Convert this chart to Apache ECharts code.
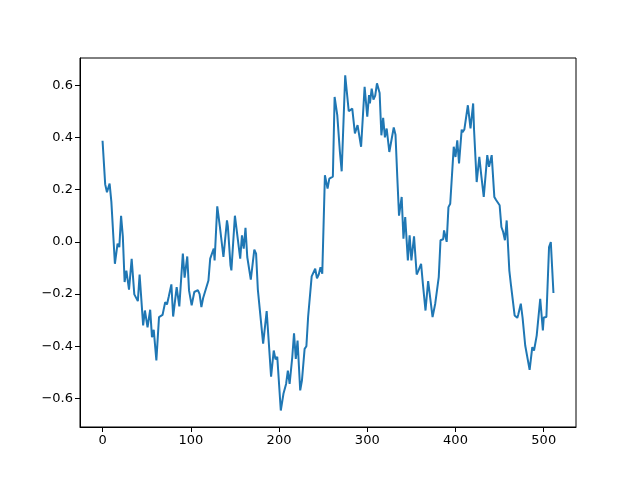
<!DOCTYPE html>
<html><head><meta charset="utf-8">
<script src="https://cdn.jsdelivr.net/npm/echarts@6/dist/echarts.min.js"></script>
<style>html,body{margin:0;padding:0;background:#fff}#c{width:640px;height:480px}</style>
</head><body><div id="c"></div>
<script>
const xs = [0,3,5,8,10,12,14,17,19,21,23,25,27,30,33,36,38,40,42,46,48,51,54,56,58,61,64,66,68,71,73,75,78,80,84,87,91,93,96,98,101,104,106,108,110,112,114,116,120,122,124,126,127,130,133,135,137,141,142,145,146,150,153,156,158,160,162,164,168,172,174,176,178,182,186,191,194,196,198,202,205,208,210,212,215,217,219,221,224,226,229,231,233,235,237,239,241,243,245,247,249,252,255,257,259,261,263,266,269,271,275,279,281,283,286,289,290,293,297,300,302,303,305,307,309,311,314,316,318,320,322,325,330,332,334,336,339,341,343,346,348,350,353,356,358,361,363,366,369,371,374,377,379,381,383,386,387,390,392,394,398,400,402,404,407,408,410,414,417,420,421,424,427,429,432,436,438,441,444,446,448,450,452,454,456,458,461,463,467,470,471,474,476,479,481,484,487,489,492,496,499,500,503,506,508,511];
const ys = [0.387,0.22,0.19,0.223,0.153,0.146,-0.084,-0.007,-0.02,0.10,0.02,-0.154,-0.11,-0.183,-0.065,-0.201,-0.205,-0.227,-0.125,-0.32,-0.263,-0.327,-0.26,-0.365,-0.337,-0.454,-0.288,-0.282,-0.28,-0.231,-0.24,-0.21,-0.163,-0.286,-0.173,-0.247,-0.045,-0.137,-0.056,-0.186,-0.243,-0.192,-0.192,-0.185,-0.20,-0.25,-0.215,-0.215,-0.148,-0.064,-0.06,-0.026,-0.071,0.136,0.057,0.057,-0.058,0.082,0.06,-0.09,-0.109,0.10,0.018,-0.064,0.025,-0.026,0.054,-0.058,-0.145,-0.03,-0.045,-0.183,-0.19,-0.39,-0.265,-0.516,-0.416,-0.45,-0.44,-0.646,-0.582,-0.544,-0.493,-0.544,-0.442,-0.35,-0.448,-0.378,-0.569,-0.53,-0.41,-0.40,-0.286,-0.28,-0.132,-0.13,-0.103,-0.14,-0.125,-0.097,-0.122,0.255,0.204,0.242,0.24,0.25,0.555,0.485,0.344,0.27,0.638,0.50,0.50,0.51,0.415,0.447,0.44,0.364,0.594,0.479,0.562,0.53,0.587,0.545,0.56,0.607,0.57,0.408,0.475,0.40,0.434,0.344,0.438,0.41,0.249,0.10,0.172,0.012,0.095,-0.071,0.025,-0.071,0.021,-0.125,-0.11,-0.084,-0.16,-0.263,-0.15,-0.15,-0.288,-0.237,-0.24,-0.135,0.006,0.01,0.044,0.0,0.133,0.146,0.364,0.325,0.389,0.30,0.43,0.42,0.43,0.523,0.434,0.53,0.43,0.229,0.325,0.26,0.172,0.332,0.287,0.332,0.172,0.16,0.16,0.14,0.057,0.038,0.006,0.082,-0.11,-0.17,-0.282,-0.291,-0.28,-0.237,-0.29,-0.397,-0.40,-0.49,-0.403,-0.416,-0.359,-0.218,-0.339,-0.29,-0.288,-0.02,-0.001,-0.196];
const xTicks = [0,100,200,300,400,500];
const yTicks = [-0.6,-0.4,-0.2,0.0,0.2,0.4,0.6];

const data = xs.map((x,i)=>[x, ys[i]]);
const fmtY = v => (v<0?'\u2212':'') + Math.abs(v).toFixed(1);
const chart = echarts.init(document.getElementById('c'), null, {renderer:'canvas'});
chart.setOption({
  animation:false,
  backgroundColor:'#fff',
  grid:{left:80,right:64,top:58,bottom:53,show:true,borderColor:'#000',borderWidth:1,backgroundColor:'transparent'},
  xAxis:{type:'value',min:-25.55,max:536.55,
    axisLine:{show:true,onZero:false,lineStyle:{color:'#000',width:1}},
    axisTick:{show:true,length:5,inside:false,lineStyle:{color:'#000'},customValues:xTicks},
    axisLabel:{color:'#000',fontSize:13,fontFamily:'DejaVu Sans',margin:7,customValues:xTicks,formatter:v=>String(Math.round(v))},
    splitLine:{show:false}},
  yAxis:{type:'value',min:-0.709,max:0.704,
    axisLine:{show:true,onZero:false,lineStyle:{color:'#000',width:1}},
    axisTick:{show:true,length:5,inside:false,lineStyle:{color:'#000'},customValues:yTicks},
    axisLabel:{color:'#000',fontSize:13,fontFamily:'DejaVu Sans',margin:7,customValues:yTicks,formatter:fmtY},
    splitLine:{show:false}},
  series:[{type:'line',data:data,showSymbol:false,symbol:'none',lineStyle:{color:'#1f77b4',width:2},itemStyle:{color:'#1f77b4'}}]
});
</script></body></html>
